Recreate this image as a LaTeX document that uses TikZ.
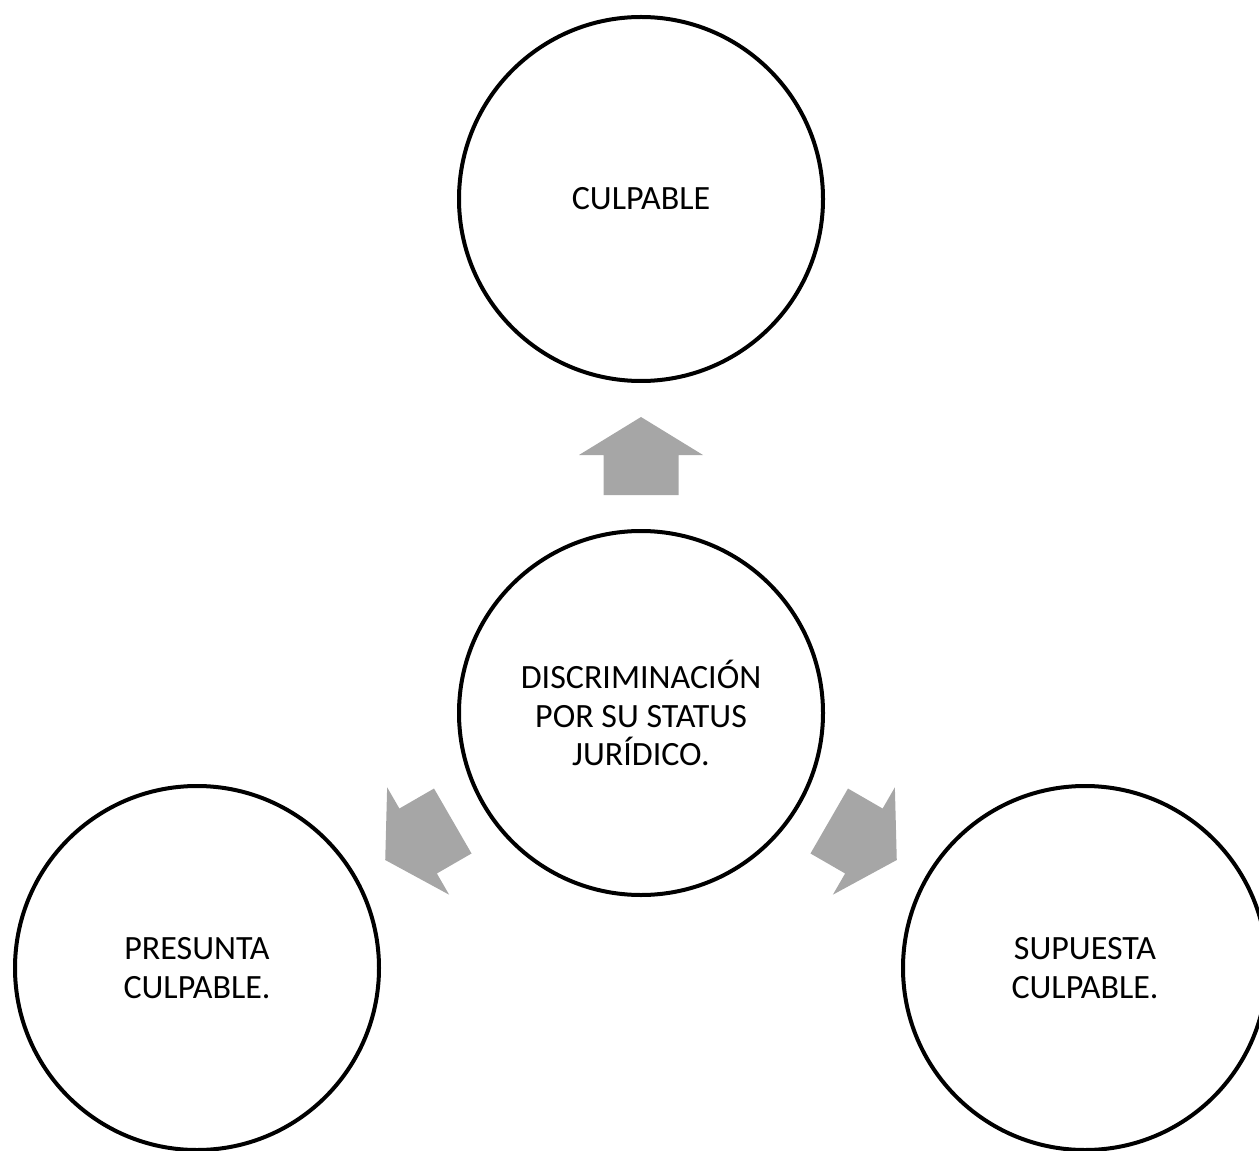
\documentclass[tikz,border=0pt]{standalone}
\usepackage{fontspec}
\setmainfont{Carlito}
\usetikzlibrary{calc}
\definecolor{arrowgray}{HTML}{A6A6A6}
\tikzset{
  bubble/.style={circle, draw=black, line width=3pt, fill=white,
    minimum size=273pt, inner sep=0pt, align=center,
    font=\fontsize{25.5}{28.7}\selectfont},
  fatarrow/.pic={
    \fill[arrowgray] (39,0) -- (1,62) -- (1,37.5) -- (-39,37.5)
      -- (-39,-37.5) -- (1,-37.5) -- (1,-62) -- cycle;
  }
}
\begin{document}
\begin{tikzpicture}[x=0.75pt,y=-0.75pt]
\useasboundingbox (0,0) rectangle (1259,1151);
\node[bubble] (t) at (641,199) {CULPABLE};
\node[bubble] (c) at (641,713) {DISCRIMINACIÓN\\POR SU STATUS\\JURÍDICO.};
\node[bubble] (l) at (197,968) {PRESUNTA\\CULPABLE.};
\node[bubble] (r) at (1085,968) {SUPUESTA\\CULPABLE.};
\pic[rotate=90] at ($(c)!0.5!(t)$) {fatarrow};
\pic[rotate=210] at ($(c)!0.5!(l)$) {fatarrow};
\pic[rotate=-30] at ($(c)!0.5!(r)$) {fatarrow};
\end{tikzpicture}
\end{document}
